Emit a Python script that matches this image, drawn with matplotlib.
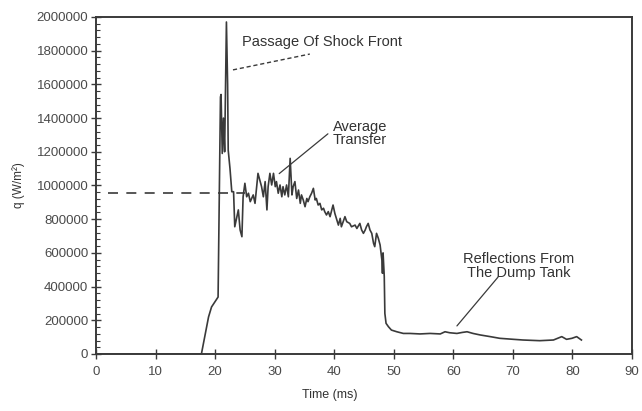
import numpy as np
import matplotlib
matplotlib.use("Agg")
import matplotlib.pyplot as plt
from matplotlib.ticker import MultipleLocator, AutoMinorLocator, FormatStrFormatter

plt.rcParams['font.family'] = ['Liberation Sans', 'DejaVu Sans']

# heat flux trace, time in ms, q in W/m^2
time_ms = [0.0, 17.7, 18.9, 19.4, 20.5, 20.9, 21.0, 21.2, 21.4, 21.6, 21.9, 22.1,
           22.2, 22.5, 22.8, 23.1, 23.3, 23.9, 24.2, 24.5, 24.7, 25.0, 25.3, 25.6,
           25.9, 26.4, 26.7, 27.2, 27.8, 28.1, 28.4, 28.7, 28.9, 29.2, 29.5, 29.8,
           30.1, 30.3, 30.6, 30.9, 31.2, 31.4, 31.7, 32.0, 32.3, 32.6, 32.9, 33.1,
           33.4, 33.7, 34.0, 34.3, 34.5, 34.8, 35.1, 35.4, 35.6, 35.9, 36.2, 36.5,
           36.8, 37.0, 37.3, 37.6, 37.9, 38.2, 38.4, 38.7, 39.0, 39.3, 39.8, 40.1,
           40.7, 41.0, 41.2, 41.8, 42.1, 42.6, 42.9, 43.5, 43.8, 44.3, 44.6, 44.9,
           45.2, 45.4, 45.7, 46.0, 46.3, 46.6, 46.8, 47.1, 47.4, 47.7, 48.0, 48.1,
           48.2, 48.4, 48.5, 48.7, 49.1, 49.6, 50.5, 51.6, 52.7, 54.4, 56.1, 57.8,
           58.6, 59.4, 60.6, 61.5, 62.3, 63.3, 64.5, 66.2, 67.8, 70.1, 71.7, 74.5,
           76.8, 78.2, 79.0, 79.9, 80.7, 81.5]
q_flux = [0, 0, 220000, 279000, 338000, 1525000, 1540000, 1190000, 1400000, 1200000,
          1970000, 1600000, 1210000, 1100000, 963000, 963000, 755000, 855000, 736000,
          696000, 933000, 1013000, 933000, 954000, 904000, 944000, 894000, 1072000,
          993000, 933000, 1023000, 855000, 993000, 1072000, 1003000, 1072000, 993000,
          1023000, 954000, 1003000, 933000, 993000, 944000, 1003000, 933000, 1161000,
          944000, 993000, 1023000, 923000, 973000, 894000, 944000, 914000, 874000,
          923000, 904000, 933000, 954000, 983000, 914000, 923000, 884000, 894000,
          855000, 865000, 845000, 825000, 845000, 815000, 884000, 835000, 765000,
          805000, 755000, 815000, 785000, 775000, 755000, 765000, 745000, 775000,
          736000, 716000, 736000, 755000, 775000, 736000, 716000, 657000, 637000,
          716000, 687000, 647000, 558000, 479000, 600000, 459000, 241000, 182000,
          162000, 142000, 132000, 122000, 122000, 119000, 122000, 119000, 132000,
          126000, 122000, 128000, 132000, 122000, 113000, 103000, 93000, 87000,
          83000, 79000, 83000, 103000, 87000, 93000, 103000, 83000]

avg_q = 957000
avg_span = [2.0, 25.0]

fig = plt.figure(figsize=(6.42, 4.11), dpi=100)
ax = fig.add_axes([0.1495, 0.1387, 0.835, 0.82])

ink = '#3a3a3a'
ax.plot(time_ms, q_flux, color=ink, lw=1.2)
ax.plot(avg_span, [avg_q, avg_q], color=ink, lw=1.2, dashes=(6, 5))

ax.set_xlim(0, 90)
ax.set_ylim(0, 2000000)
ax.xaxis.set_major_locator(MultipleLocator(10))
ax.yaxis.set_major_locator(MultipleLocator(200000))
ax.yaxis.set_minor_locator(AutoMinorLocator(5))
ax.yaxis.set_major_formatter(FormatStrFormatter('%d'))
ax.tick_params(axis='both', which='major', direction='inout', length=7,
               width=1.0, colors=ink, labelcolor='#4a4a4a', labelsize=9.5)
ax.tick_params(axis='y', which='minor', direction='in', length=3, width=0.8,
               colors=ink)
ax.tick_params(axis='y', pad=2)
ax.tick_params(axis='x', pad=5)
for s in ax.spines.values():
    s.set_color(ink)
    s.set_linewidth(1.4)

ax.set_ylabel('q (W/m²)', fontsize=8.5, color='#333333', labelpad=8)
ax.set_xlabel('Time (ms)', fontsize=9, color='#333333')
ax.xaxis.set_label_coords(0.437, -0.105)

# annotations
ax.text(24.5, 1850000, 'Passage Of Shock Front', fontsize=10.5, color='#333333',
        va='center', ha='left')
ax.plot([23.0, 35.9], [1686000, 1780000], color=ink, lw=1.0, dashes=(3, 2))

ax.text(44.3, 1390000, 'Average\nTransfer', fontsize=10.5, color='#333333',
        va='top', ha='center', linespacing=0.95)
ax.annotate('', xy=(30.4, 1060000), xytext=(39.3, 1317000),
            arrowprops=dict(arrowstyle='-', color=ink, lw=0.9))

ax.text(71.0, 605000, 'Reflections From\nThe Dump Tank', fontsize=10.5,
        color='#333333', va='top', ha='center', linespacing=1.0)
ax.annotate('', xy=(60.3, 154000), xytext=(67.8, 469000),
            arrowprops=dict(arrowstyle='-', color=ink, lw=0.9))

fig.savefig('out.png', dpi=100, facecolor='white')
